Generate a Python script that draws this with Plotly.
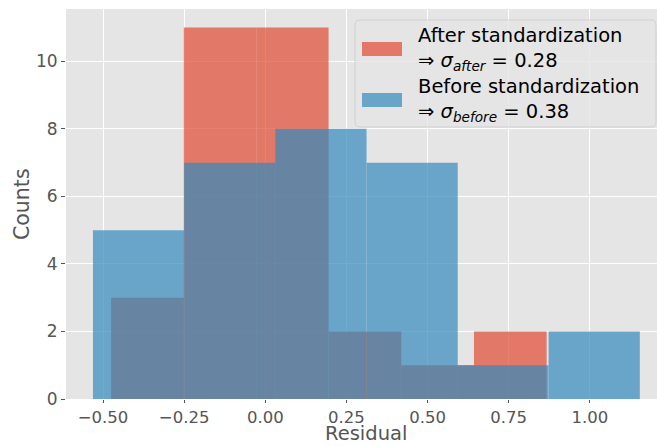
import plotly.graph_objects as go

# ---- data ----
after_edges = [-0.475, -0.251, -0.028, 0.195, 0.419, 0.643, 0.867]
after_counts = [3, 11, 11, 2, 1, 2]
before_edges = [-0.531, -0.250, 0.031, 0.312, 0.593, 0.873, 1.154]
before_counts = [5, 7, 8, 7, 1, 2]
x_ticks = [-0.5, -0.25, 0.0, 0.25, 0.5, 0.75, 1.0]
y_ticks = [0, 2, 4, 6, 8, 10]
after_label = "After standardization<br>⇒ <i>σ</i><sub><i>after</i></sub> = 0.28"
before_label = "Before standardization<br>⇒ <i>σ</i><sub><i>before</i></sub> = 0.38"

RED = "#E24A33"
BLUE = "#348ABD"
FONT = "DejaVu Sans"

W, H = 657, 446
L, R, T, B = 66, 0, 9, 47
PW, PH = W - L - R, H - T - B


def px(xp):
    return (xp - L) / PW


def py(yp):
    return (H - B - yp) / PH


def centers(edges):
    return [(a + b) / 2 for a, b in zip(edges[:-1], edges[1:])]


def widths(edges):
    return [b - a for a, b in zip(edges[:-1], edges[1:])]


fig = go.Figure()
fig.add_trace(go.Bar(x=centers(after_edges), y=after_counts, width=widths(after_edges),
                     marker=dict(color=RED, line=dict(width=0)), opacity=0.7,
                     name="After", showlegend=False))
fig.add_trace(go.Bar(x=centers(before_edges), y=before_counts, width=widths(before_edges),
                     marker=dict(color=BLUE, line=dict(width=0)), opacity=0.7,
                     name="Before", showlegend=False))

fig.update_layout(
    width=W, height=H, autosize=False,
    margin=dict(l=L, r=R, t=T, b=B, pad=0),
    barmode="overlay",
    paper_bgcolor="white", plot_bgcolor="#E5E5E5",
    font=dict(family=FONT, color="#555555", size=17),
)
fig.update_xaxes(range=[-0.614, 1.207], tickvals=x_ticks, tickformat=".2f",
                 ticks="outside", ticklen=3, tickwidth=1, tickcolor="#555555",
                 ticklabelstandoff=0,
                 showgrid=True, gridcolor="white", gridwidth=1.3,
                 zeroline=False, showline=False,
                 tickfont=dict(size=16.5, color="#555555"))
fig.update_yaxes(range=[0, 11.55], tickvals=y_ticks,
                 ticks="outside", ticklen=4, tickwidth=1, tickcolor="#555555",
                 showgrid=True, gridcolor="white", gridwidth=1.3,
                 zeroline=False, showline=False,
                 tickfont=dict(size=17, color="#555555"))

ann = []
# axis titles
ann.append(dict(text="Residual", x=px(366), y=py(446), xref="paper", yref="paper",
                xanchor="center", yanchor="bottom", showarrow=False, borderpad=0,
                font=dict(size=19.5, color="#555555", family=FONT)))
ann.append(dict(text="Counts", x=px(22), y=py(204), xref="paper", yref="paper",
                xanchor="center", yanchor="middle", showarrow=False, textangle=-90,
                font=dict(size=20.5, color="#555555", family=FONT)))

# manual legend
x0, x1, y0, y1, r = 355, 656, 20, 127, 5
path = (f"M {px(x0 + r)},{py(y0)} L {px(x1 - r)},{py(y0)} Q {px(x1)},{py(y0)} {px(x1)},{py(y0 + r)} "
        f"L {px(x1)},{py(y1 - r)} Q {px(x1)},{py(y1)} {px(x1 - r)},{py(y1)} "
        f"L {px(x0 + r)},{py(y1)} Q {px(x0)},{py(y1)} {px(x0)},{py(y1 - r)} "
        f"L {px(x0)},{py(y0 + r)} Q {px(x0)},{py(y0)} {px(x0 + r)},{py(y0)} Z")
shapes = [
    dict(type="path", path=path, xref="paper", yref="paper",
         fillcolor="rgba(229,229,229,0.8)", line=dict(color="rgba(204,204,204,0.8)", width=1)),
    dict(type="rect", xref="paper", yref="paper", x0=px(362), x1=px(402), y0=py(42), y1=py(56),
         fillcolor=RED, opacity=0.7, line=dict(width=0)),
    dict(type="rect", xref="paper", yref="paper", x0=px(362), x1=px(402), y0=py(93), y1=py(107),
         fillcolor=BLUE, opacity=0.7, line=dict(width=0)),
]
for lab, yc in ((after_label, 49), (before_label, 100)):
    ann.append(dict(text=lab, x=px(416), y=py(yc), xref="paper", yref="paper",
                    xanchor="left", yanchor="middle", align="left", showarrow=False,
                    font=dict(size=19.5, color="black", family=FONT)))

fig.update_layout(annotations=ann, shapes=shapes)
fig.write_html("out.html")
